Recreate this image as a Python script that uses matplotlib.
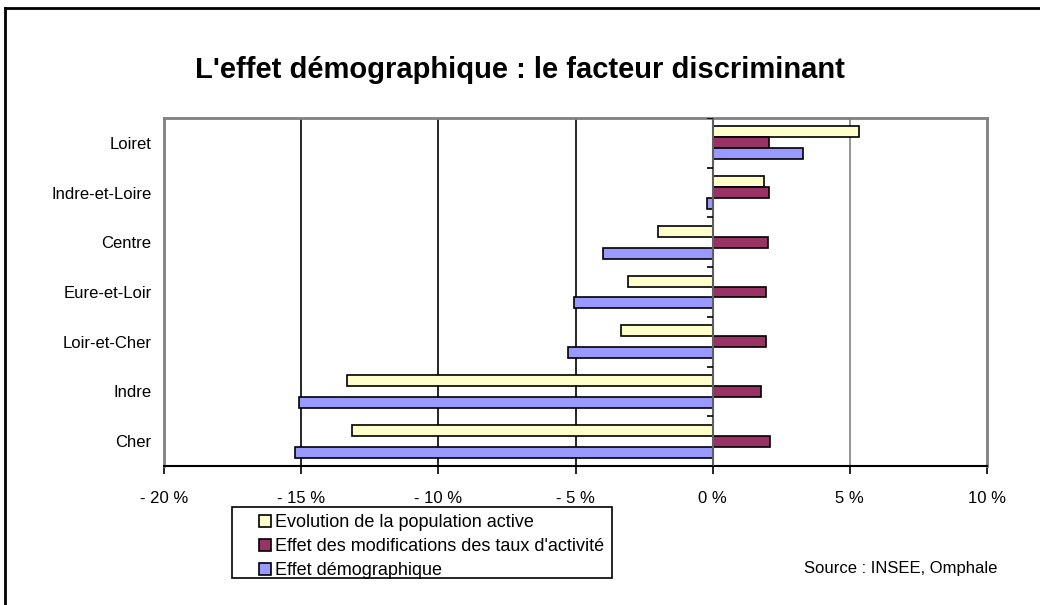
import numpy as np
import matplotlib
matplotlib.use("Agg")
import matplotlib.pyplot as plt
from matplotlib.patches import Patch, Rectangle
from matplotlib.ticker import FuncFormatter

plt.rcParams['font.family'] = ['Liberation Sans', 'DejaVu Sans']

# données (en %)
departements = ['Loiret', 'Indre-et-Loire', 'Centre', 'Eure-et-Loir',
                'Loir-et-Cher', 'Indre', 'Cher']
evolution_pop_active = [5.33, 1.87, -1.98, -3.09, -3.35, -13.32, -13.14]
effet_taux_activite = [2.05, 2.06, 2.00, 1.96, 1.94, 1.77, 2.09]
effet_demographique = [3.30, -0.20, -3.98, -5.04, -5.29, -15.09, -15.21]

series_labels = ['Evolution de la population active',
                 "Effet des modifications des taux d'activité",
                 'Effet démographique']
couleurs = ['#FFFFCC', '#993366', '#9999FF']
x_ticks = [-20, -15, -10, -5, 0, 5, 10]

W, H = 1040, 605
fig = plt.figure(figsize=(W / 100, H / 100), dpi=100)
ax = fig.add_axes([164 / W, 1 - 466 / H, (987 - 164) / W, (466 - 118) / H])

y = np.arange(len(departements))
h = 0.22
for k, vals in enumerate([evolution_pop_active, effet_taux_activite, effet_demographique]):
    ax.barh(y + (k - 1) * h, vals, height=h, color=couleurs[k],
            edgecolor='black', linewidth=1.2, zorder=3)

ax.set_xlim(-20, 10)
ax.set_ylim(len(departements) - 0.5, -0.5)

# grille verticale
for v in x_ticks[1:-1]:
    if v == 0:
        continue
    ax.axvline(v, color='black' if v < 0 else '#808080', linewidth=1.2, zorder=1)
ax.axvline(0, color='#606060', linewidth=1.5, zorder=4)
# petites graduations de l'axe des catégories
ax.hlines(np.arange(len(departements) + 1) - 0.5, -0.2, 0, color='black',
          linewidth=1.2, zorder=4)

ax.set_xticks(x_ticks)
ax.xaxis.set_major_formatter(FuncFormatter(
    lambda v, p: f"- {abs(v):.0f} %" if v < 0 else f"{v:.0f} %"))
ax.tick_params(axis='x', direction='out', length=6, width=1.2, labelsize=12, pad=12)
ax.set_yticks(y)
ax.set_yticklabels(departements)
ax.tick_params(axis='y', length=0, labelsize=12, pad=9)

for s in ['top', 'right', 'left']:
    ax.spines[s].set_color('#808080')
    ax.spines[s].set_linewidth(2)
ax.spines['bottom'].set_color('black')
ax.spines['bottom'].set_linewidth(1.5)

fig.text(0.5, 1 - 70 / H, "L'effet démographique : le facteur discriminant",
         ha='center', va='center', fontsize=21, fontweight='bold')

# légende : cadre dessiné à part pour garder la marge de gauche
handles = [Patch(facecolor=c, edgecolor='black', linewidth=1.2) for c in couleurs]
leg = fig.legend(handles, series_labels, loc='upper left',
                 bbox_to_anchor=(259 / W, 1 - 514 / H), fontsize=13,
                 frameon=False, handlelength=0.65, handleheight=0.65,
                 handletextpad=0.25, labelspacing=0.4, borderpad=0,
                 borderaxespad=0)
fig.add_artist(Rectangle((232 / W, 1 - 578 / H), (612 - 232) / W, (578 - 507) / H,
                         transform=fig.transFigure, fill=False,
                         edgecolor='black', linewidth=1.2))

fig.text(997 / W, 1 - 568 / H, 'Source : INSEE, Omphale',
         ha='right', va='center', fontsize=12)

# cadre extérieur (visible à gauche et en haut)
fig.add_artist(plt.Line2D([5 / W, 5 / W], [0, 1 - 8 / H],
                          transform=fig.transFigure, color='black', linewidth=2))
fig.add_artist(plt.Line2D([5 / W, 1], [1 - 8 / H, 1 - 8 / H],
                          transform=fig.transFigure, color='black', linewidth=2))

fig.savefig('out.png', dpi=100)
